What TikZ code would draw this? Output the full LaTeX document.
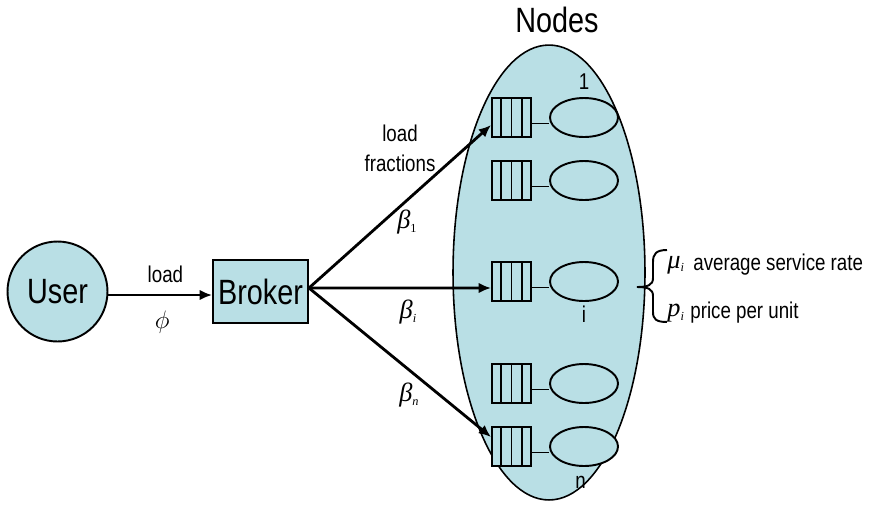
\documentclass[tikz,border=0pt]{standalone}
\usepackage{fontspec}
\setmainfont{Liberation Sans}[FakeStretch=0.82]
\newfontfamily\symfont{Liberation Serif}
\usetikzlibrary{calc,positioning,arrows.meta,shapes.geometric}
\definecolor{paleblue}{RGB}{185,223,229}
\tikzset{
	bigtext/.style={font=\fontsize{20}{24}\selectfont},
	lbl/.style={font=\fontsize{13}{17}\selectfont,inner sep=0pt},
	greek/.style={font=\fontsize{15}{17}\symfont\itshape,inner sep=0pt},
	flow/.style={line width=1.6pt,-{Latex[length=7pt,width=6pt]}},
	queue/.style={draw,line width=1.1pt,fill=paleblue,minimum width=0.78cm,minimum height=0.78cm,inner sep=0pt},
	proc/.style={draw,ellipse,line width=1.1pt,fill=paleblue,minimum width=1.36cm,minimum height=0.78cm,inner sep=0pt},
}
% italic symbol with a small lowered index
\newcommand{\Sym}[2]{#1\raisebox{-0.3ex}{\fontsize{7}{7}\selectfont #2}}
% one server: waiting queue with four slots and its processor
\newcommand{\Server}[2]{
	\node[queue] (q#1) at (511.5,#2) {};
	\foreach \k in {1,2,3}
		\draw[line width=1.1pt] ($(q#1.north west)!\k/4!(q#1.north east)$)--($(q#1.south west)!\k/4!(q#1.south east)$);
	\node[proc] (p#1) at (584,#2) {};
	\draw[line width=1.1pt] ([yshift=-3.4pt]q#1.east)--([yshift=-3.4pt]p#1.west);
}
\begin{document}
\begin{tikzpicture}[x=0.02cm,y=-0.02cm]
	\useasboundingbox (0,0) rectangle (869,505);
	%pool of nodes
	\node[draw,ellipse,line width=0.9pt,fill=paleblue,minimum width=3.84cm,minimum height=9.1cm,inner sep=0pt] (pool) at (549,272.5) {};
	\node[bigtext] (title) at (557,20) {Nodes};
	%user and broker
	\node[draw,circle,line width=1.1pt,fill=paleblue,minimum size=2cm,inner sep=0pt,bigtext] (user) at (57.5,291.5) {User};
	\node[draw,line width=1.1pt,fill=paleblue,minimum width=1.9cm,minimum height=1.26cm,inner sep=0pt,bigtext] (broker) at (260.5,291.5) {Broker};
	\draw[flow] ([yshift=-2pt]user.east) -- node[lbl,pos=0.55,above=6pt] (load) {load} node[pos=0.52,below=8pt,inner sep=0pt,font=\fontsize{14}{16}\selectfont] (phi) {$\phi$} ([yshift=-2pt]broker.west);
	%servers
	\foreach \n/\y in {1/117.5,2/180.5,i/281.5,4/383.5,n/446.5}{
		\Server{\n}{\y}
	}
	\node[lbl,above=4pt of p1] (n1) {1};
	\node[lbl,below=2pt of pi] (ni) {i};
	\node[lbl,below=5pt of pn,xshift=-2pt] (nn) {n};
	%load fractions
	\coordinate (fan) at ([yshift=2pt]broker.east);
	\draw[flow] (fan) -- ([yshift=-4.3pt]q1.west);
	\draw[flow] (fan) -- ([yshift=-3.7pt]qi.west);
	\draw[flow] (fan) -- ([yshift=5.4pt]qn.west);
	\node[lbl,align=center] (frac) at (400,148) {load\\fractions};
	\node[greek] (b1) at (407,222) {\Sym{β}{\upshape 1}};
	\node[greek] (bi) at (408,312) {\Sym{β}{i}};
	\node[greek] (bn) at (409,395) {\Sym{β}{n}};
	%brace and parameters
	\draw[line width=1.1pt] (667,250) .. controls (656,250) and (653,254) .. (653,262) -- (653,278)
		.. controls (653,285) and (648,287) .. (637,287) .. controls (648,287) and (653,289) .. (653,296)
		-- (653,312) .. controls (653,319) and (656,322) .. (667,322);
	\node[greek,anchor=west] (mu) at (667,265) {\Sym{μ}{i}};
	\node[lbl,anchor=west] (rate) at (693,265) {average service rate};
	\node[greek,anchor=west] (p) at (667,313) {\Sym{p}{i}};
	\node[lbl,anchor=west] (price) at (690,313) {price per unit};
\end{tikzpicture}
\end{document}
